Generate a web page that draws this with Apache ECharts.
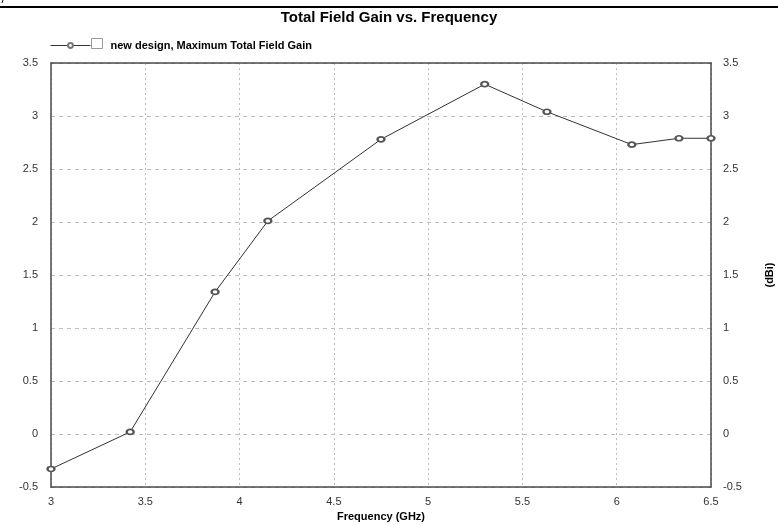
<!DOCTYPE html>
<html>
<head>
<meta charset="utf-8">
<script src="https://cdn.jsdelivr.net/npm/echarts@6/dist/echarts.min.js"></script>
<style>
  html, body { margin: 0; padding: 0; background: #fff; }
  #chart { width: 778px; height: 525px; }
</style>
</head>
<body>
<div id="chart"></div>
<script>
// data
const freqGHz = [3, 3.42, 3.87, 4.15, 4.75, 5.3, 5.63, 6.08, 6.33, 6.5];
const gainDBi = [-0.33, 0.02, 1.34, 2.01, 2.78, 3.30, 3.04, 2.73, 2.79, 2.79];
const seriesName = 'new design, Maximum Total Field Gain';

const points = freqGHz.map((f, i) => [f, gainDBi[i]]);

const font = '"Liberation Sans", Arial, sans-serif';
const axisColor = '#4a4a4a';

const labelStyle = {
  color: '#333',
  fontSize: 11,
  fontFamily: font,
};

const chart = echarts.init(document.getElementById('chart'));

const option = {
  animation: false,
  backgroundColor: '#fff',
  title: {
    text: 'Total Field Gain vs. Frequency',
    left: 'center',
    top: 10,
    padding: 0,
    textStyle: { fontSize: 15, fontWeight: 'bold', color: '#000', fontFamily: font },
  },
  legend: {
    left: 50,
    top: 40,
    padding: 0,
    itemWidth: 40,
    itemHeight: 6,
    data: [seriesName],
    lineStyle: { width: 1, color: '#333' },
    itemStyle: { borderWidth: 1, color: '#777' },
    textStyle: {
      fontSize: 11,
      fontWeight: 'bold',
      color: '#000',
      fontFamily: font,
      padding: [0, 0, 0, 15],
    },
  },
  grid: {
    left: 51,
    right: 67,
    top: 63,
    bottom: 38,
    outerBoundsMode: 'none',
  },
  xAxis: [
    {
      type: 'value',
      min: 3,
      max: 6.5,
      interval: 0.5,
      name: 'Frequency (GHz)',
      nameLocation: 'middle',
      nameGap: 24,
      nameTextStyle: { fontSize: 11, fontWeight: 'bold', color: '#000', fontFamily: font },
      axisLine: { onZero: false, lineStyle: { color: axisColor, width: 1.5 } },
      axisTick: { show: false },
      axisLabel: Object.assign({ margin: 9 }, labelStyle),
      splitLine: { lineStyle: { color: '#bdbdbd', type: [2, 3] } },
    },
    {
      // top frame line only
      type: 'value',
      position: 'top',
      min: 3,
      max: 6.5,
      interval: 0.5,
      axisLine: { show: true, onZero: false, lineStyle: { color: axisColor, width: 1.5 } },
      axisTick: { show: false },
      axisLabel: { show: false },
      splitLine: { show: false },
    },
  ],
  yAxis: [
    {
      type: 'value',
      min: -0.5,
      max: 3.5,
      interval: 0.5,
      axisLine: { show: true, onZero: false, lineStyle: { color: axisColor, width: 1.5 } },
      axisTick: { show: false },
      axisLabel: Object.assign({ margin: 13 }, labelStyle),
      splitLine: { lineStyle: { color: '#bdbdbd', type: [4, 4] } },
    },
    {
      type: 'value',
      position: 'right',
      min: -0.5,
      max: 3.5,
      interval: 0.5,
      name: '(dBi)',
      nameLocation: 'middle',
      nameRotate: 90,
      nameGap: 53,
      nameTextStyle: { fontSize: 11, fontWeight: 'bold', color: '#000', fontFamily: font },
      axisLine: { show: true, onZero: false, lineStyle: { color: axisColor, width: 1.5 } },
      axisTick: { show: false },
      axisLabel: Object.assign({ margin: 12 }, labelStyle),
      splitLine: { show: false },
    },
  ],
  series: [
    {
      name: seriesName,
      type: 'line',
      data: points,
      symbol: 'emptyCircle',
      symbolSize: [7, 5],
      lineStyle: { color: '#333', width: 1 },
      itemStyle: { color: '#555', borderWidth: 1 },
    },
  ],
  graphic: [
    // thick rule along the top of the picture
    { type: 'rect', shape: { x: 0, y: 6, width: 778, height: 2 }, style: { fill: '#000' } },
    { type: 'line', shape: { x1: 3, y1: 0, x2: 2, y2: 3 }, style: { stroke: '#000', lineWidth: 1 } },
    // empty checkbox next to the legend line
    { type: 'rect', shape: { x: 91.5, y: 38.5, width: 11, height: 10 },
      style: { fill: '#fff', stroke: '#999', lineWidth: 1 } },
  ],
};

chart.setOption(option);
</script>
</body>
</html>
